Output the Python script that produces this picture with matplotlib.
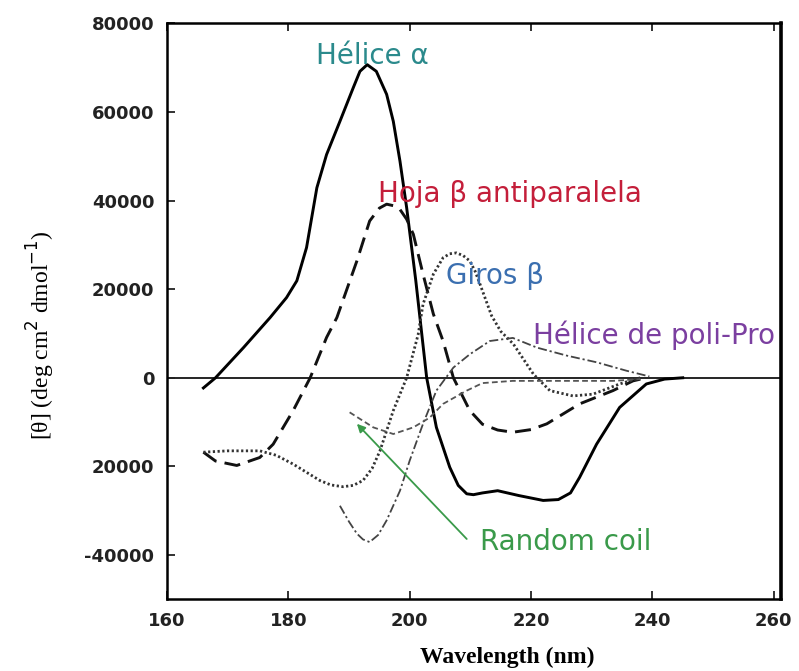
import matplotlib
matplotlib.use('Agg')
import matplotlib.pyplot as plt

# Far-UV CD spectra of the main protein secondary structures
alpha_x = [166, 168, 172.6, 177, 179.7, 181.4, 183, 184.7, 186.3, 188.5, 190.7,
           191.8, 193, 194.5, 196.2, 197.3, 198.4, 199.5, 201, 202.8, 204.4, 206.6,
           208, 209.4, 210.5, 212, 214.5, 218, 222, 224.5, 226.5, 228, 230.8, 234.6,
           239, 242, 245]
alpha_y = [-2300, 0, 6800, 13600, 18100, 21900, 29400, 42900, 50400, 57900, 65500,
           69200, 70700, 69200, 64000, 57900, 48900, 38400, 22000, 0, -11200, -20200,
           -24300, -26200, -26400, -26000, -25500, -26600, -27700, -27500, -26000,
           -22500, -15000, -6700, -1400, -300, 0]

sheet_x = [166, 168, 171.5, 175.3, 177.5, 180.8, 183.6, 186.3, 188, 191.3, 193.4,
           195, 196.2, 197.5, 198.4, 199.5, 200.6, 202.2, 203.9, 205.5, 207.2, 209.9,
           212, 214.5, 217, 220, 222.6, 228, 233.5, 236.8, 239]
sheet_y = [-16800, -18800, -19800, -18000, -15000, -7400, 0, 9100, 13600, 26400,
           35400, 38300, 39200, 38800, 38000, 35800, 32400, 23400, 14400, 8300, 0,
           -7400, -10500, -11800, -12300, -11700, -10400, -5900, -2900, -700, 0]

turn_x = [166, 170, 175.3, 178, 180.8, 185.2, 187, 189, 190.7, 192.3, 193.8, 195.1,
          197.3, 199.5, 201.4, 202.2, 203.9, 205.5, 206.6, 207.7, 208.8, 209.9,
          210.8, 211.6, 213.5, 215, 217.1, 220.4, 223.1, 226.9, 230.2, 234.6, 238]
turn_y = [-16800, -16500, -16500, -17500, -19500, -23200, -24200, -24600, -24300,
          -23200, -20500, -16500, -7400, 0, 9800, 16600, 23400, 27100, 28000, 28200,
          27600, 26400, 24000, 21100, 14000, 10500, 7600, 800, -2900, -4100, -3700,
          -1400, 0]

ppii_x = [188.5, 190, 191.3, 192.3, 193.4, 194.8, 196.2, 198.4, 200, 202.2, 204.4,
          207.2, 209.9, 213.2, 217, 221, 225.9, 230.8, 235.7, 239.5]
ppii_y = [-28900, -32500, -35200, -36500, -37100, -35500, -32200, -25500, -18700,
          -10400, -2900, 2300, 5300, 8300, 9000, 6800, 5000, 3500, 1600, 300]

coil_x = [190.1, 194, 197.3, 200.6, 203.3, 205.5, 209.4, 212, 217, 225, 233.5, 238]
coil_y = [-7800, -11200, -12700, -11200, -9000, -5900, -2900, -1200, -700, -700,
          -700, -300]

x_ticks = [160, 180, 200, 220, 240, 260]
y_ticks = [80000, 60000, 40000, 20000, 0, -20000, -40000]
y_tick_labels = ['80000', '60000', '40000', '20000', '0', '20000', '-40000']

fig = plt.figure(figsize=(7.99, 6.71), dpi=100)
ax = fig.add_axes([0.209, 0.107, 0.7685, 0.858])

ax.axhline(0, color='black', lw=1.2, zorder=1)

ax.plot(alpha_x, alpha_y, color='black', lw=2.1, solid_joinstyle='round')
ax.plot(sheet_x, sheet_y, color='#111111', lw=2.1, dashes=(5.5, 2.8))
ax.plot(turn_x, turn_y, color='#333333', lw=2.0, linestyle=(0, (0.8, 0.9)))
ax.plot(ppii_x, ppii_y, color='#444444', lw=1.3, linestyle=(0, (5, 1.6, 1.2, 1.6)))
ax.plot(coil_x, coil_y, color='#555555', lw=1.3, dashes=(3.2, 1.8))

# curve labels
lab_font = dict(family='DejaVu Sans', fontsize=20, va='center')
ax.text(193.8, 72600, 'Hélice α', color='#2b8a8c', ha='center', **lab_font)
ax.text(216.5, 41400, 'Hoja β antiparalela', color='#c41e3a', ha='center', **lab_font)
ax.text(214.0, 23000, 'Giros β', color='#3b6fb0', ha='center', **lab_font)
ax.text(240.2, 9500, 'Hélice de poli-Pro', color='#7b3fa0', ha='center', **lab_font)
ax.text(225.7, -37100, 'Random coil', color='#3a9a4a', ha='center', **lab_font)
ax.annotate('', xy=(191.3, -10400), xytext=(209.4, -36400),
            arrowprops=dict(arrowstyle='-|>', color='#3a9a4a', lw=1.3,
                            mutation_scale=12, shrinkA=0, shrinkB=0))

ax.set_xlim(160, 261.2)
ax.set_ylim(-50000, 80000)
ax.set_xticks(x_ticks)
ax.set_yticks(y_ticks)
ax.set_yticklabels(y_tick_labels)
ax.tick_params(direction='in', length=6, width=1.3, top=True, right=False,
               labelsize=13, colors='#222222', pad=9)
for lbl in ax.get_xticklabels() + ax.get_yticklabels():
    lbl.set_fontweight('bold')
    lbl.set_family('DejaVu Sans')

for side in ['left', 'bottom', 'top']:
    ax.spines[side].set_linewidth(1.8)
ax.spines['right'].set_linewidth(2.6)

ax.set_ylabel('[θ] (deg cm$^{2}$ dmol$^{-1}$)', family='Liberation Serif',
              fontsize=17, labelpad=20, y=0.458)
ax.set_xlabel('Wavelength (nm)', family='Liberation Serif', fontsize=17,
              fontweight='bold', labelpad=12, x=0.554)

fig.savefig('out.png', dpi=100)
